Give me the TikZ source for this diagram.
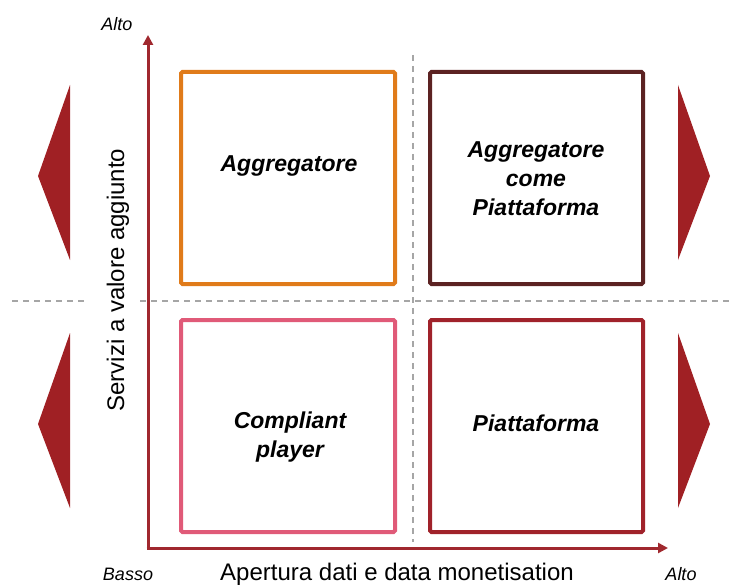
\documentclass[tikz,border=0pt]{standalone}
\usepackage{fontspec}
\setmainfont{Liberation Sans}
\usetikzlibrary{arrows.meta}
\definecolor{axisred}{HTML}{A0282E}
\definecolor{tri}{HTML}{A02024}
\definecolor{orangeb}{HTML}{E07B1A}
\definecolor{brownb}{HTML}{5C2222}
\definecolor{pinkb}{HTML}{E05A78}
\definecolor{redb}{HTML}{A0222A}
\begin{document}
\begin{tikzpicture}[x=1pt,y=-1pt,
  quad/.style={draw, line width=4pt, rounded corners=1.5pt},
  qtext/.style={font=\fontsize{23}{29}\selectfont\bfseries\itshape, align=center, text=black},
  axis/.style={draw=axisred, line width=3pt, -{Triangle[length=10pt,width=10pt]}},
  guide/.style={draw=gray!70, line width=1.2pt, dash pattern=on 6pt off 5pt},
  trif/.style={fill=tri, draw=none},
  small/.style={font=\fontsize{18}{21}\selectfont\itshape}]
\useasboundingbox (0,0) rectangle (732,586);
% guides
\draw[guide] (413,55) -- (413,542);
\draw[guide] (12,301) -- (88,301);
\draw[guide] (140,301) -- (732,301);
% boxes
\draw[quad, draw=orangeb] (181,72) rectangle (395,284);
\draw[quad, draw=brownb] (430,72) rectangle (643,284);
\draw[quad, draw=pinkb] (181,320) rectangle (395,532);
\draw[quad, draw=redb] (430,320) rectangle (643,532);
\node[qtext] (agg) at (289,166) {Aggregatore};
\node[qtext] (aggp) at (536,179) {Aggregatore\\come\\Piattaforma};
\node[qtext] (comp) at (290,437) {Compliant\\player};
\node[qtext] (piat) at (536,423) {Piattaforma};
% axes
\coordinate (o) at (148,548);
\coordinate (ytop) at (148,35);
\coordinate (xend) at (668,548);
\draw[axis] ([yshift=-1.5pt]o) -- (ytop);
\draw[axis] ([xshift=-1.5pt]o) -- (xend);
% triangles
\fill[trif] (70,85) -- (38,176) -- (70,260) -- cycle;
\fill[trif] (70,333) -- (38,424) -- (70,508) -- cycle;
\fill[trif] (678,85) -- (710,176) -- (678,260) -- cycle;
\fill[trif] (678,333) -- (710,424) -- (678,508) -- cycle;
% labels
\node[small] (alto1) at (117,24) {Alto};
\node[small] (basso) at (128,574) {Basso};
\node[small] (alto2) at (681,574) {Alto};
\node[font=\fontsize{24}{28}\selectfont] (xl) at (397,574) {Apertura dati e data monetisation};
\node[font=\fontsize{24}{28}\selectfont, rotate=90] (yl) at (118,280) {Servizi a valore aggiunto};
\end{tikzpicture}
\end{document}
